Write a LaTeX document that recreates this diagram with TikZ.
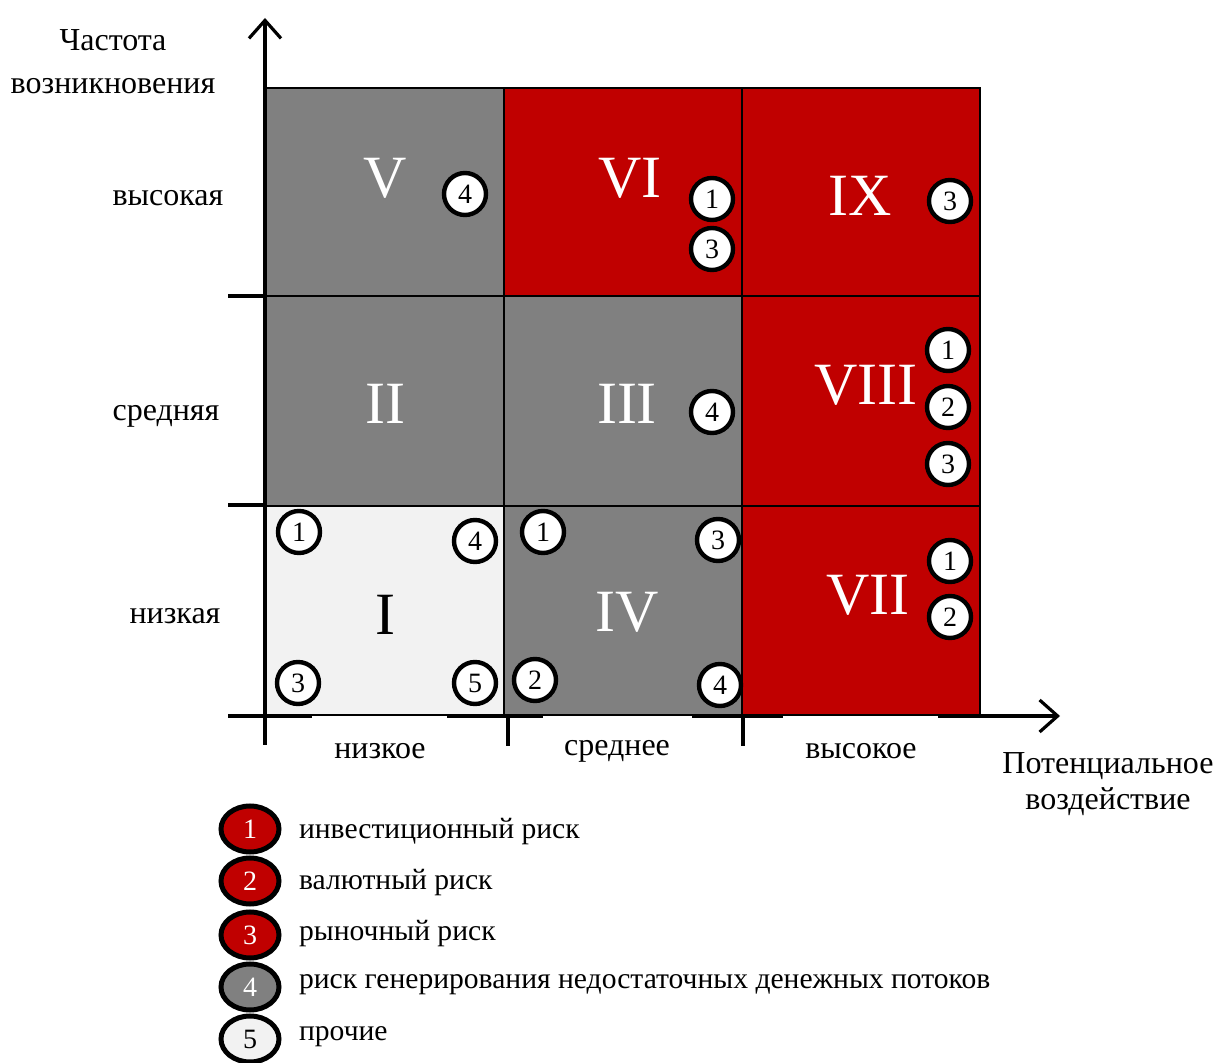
\documentclass[tikz,border=0pt]{standalone}
\usepackage{fontspec}
\setmainfont{Liberation Serif}
\usetikzlibrary{arrows.meta,shapes.geometric}
\definecolor{riskred}{HTML}{C00000}
\definecolor{riskgray}{HTML}{808080}
\definecolor{risklight}{HTML}{F2F2F2}
\begin{document}
\begin{tikzpicture}[x=0.5pt,y=-0.5pt,
  axis/.style={line width=1.6pt},
  cellbox/.style={draw,line width=0.9pt},
  numeral/.style={font=\fontsize{30}{30}\selectfont,text=white},
  riskdot/.style={draw,circle,line width=2.2pt,fill=white,minimum size=21pt,inner sep=0pt,font=\fontsize{14}{14}\selectfont},
  legdot/.style={draw,ellipse,line width=2.5pt,minimum width=29pt,minimum height=23pt,inner sep=0pt,font=\fontsize{14}{14}\selectfont},
  legtext/.style={anchor=west,font=\fontsize{14.8}{14.8}\selectfont},
  ticklab/.style={font=\fontsize{16}{21.5}\selectfont}]
\useasboundingbox (0,0) rectangle (1217,1063);

% matrix cells
\path[cellbox,fill=riskgray] (265,88) rectangle (504,296);
\path[cellbox,fill=riskred] (504,88) rectangle (742,296);
\path[cellbox,fill=riskred] (742,88) rectangle (980,296);
\path[cellbox,fill=riskgray] (265,296) rectangle (504,506);
\path[cellbox,fill=riskgray] (504,296) rectangle (742,506);
\path[cellbox,fill=riskred] (742,296) rectangle (980,506);
\path[cellbox,fill=risklight] (265,506) rectangle (504,715);
\path[cellbox,fill=riskgray] (504,506) rectangle (742,715);
\path[cellbox,fill=riskred] (742,506) rectangle (980,715);

% axes and ticks
\draw[axis,-{Straight Barb[length=9pt,width=16pt]}] (265,745) -- (265,18);
\draw[axis] (228,716) -- (312,716);
\draw[axis] (447,716) -- (543,716);
\draw[axis] (692,716) -- (783,716);
\draw[axis,-{Straight Barb[length=9pt,width=16pt]}] (938,716) -- (1060,716);
\draw[axis] (228,296) -- (265,296);
\draw[axis] (228,505) -- (265,505);
\draw[axis] (508,716) -- (508,746);
\draw[axis] (743,716) -- (743,746);

\node[ticklab,align=center] (ytitle) at (113,62) {Частота\\возникновения};
\node[ticklab,align=center,font=\fontsize{16}{18}\selectfont] (xtitle) at (1108,784) {Потенциальное\\воздействие};
\node[ticklab] (yhigh) at (168,198) {высокая};
\node[ticklab] (ymid) at (166,416) {средняя};
\node[ticklab] (ylow) at (175,616) {низкая};
\node[ticklab] (xlow) at (380,751) {низкое};
\node[ticklab] (xmid) at (617,751) {среднее};
\node[ticklab] (xhigh) at (861,751) {высокое};

% zone numbers
\node[numeral] (z5) at (385,178) {V};
\node[numeral] (z6) at (630,178) {VI};
\node[numeral] (z9) at (860,196) {IX};
\node[numeral] (z2) at (385,404) {II};
\node[numeral] (z3) at (627,404) {III};
\node[numeral] (z8) at (866,385) {VIII};
\node[numeral,text=black] (z1) at (385,615) {I};
\node[numeral] (z4) at (627,612) {IV};
\node[numeral] (z7) at (868,595) {VII};

% risks in each zone
\node[riskdot] (v4) at (465,194) {4};
\node[riskdot] (vi1) at (712,199) {1};
\node[riskdot] (vi3) at (712,249) {3};
\node[riskdot] (ix3) at (950,201) {3};
\node[riskdot] (iii4) at (712,412) {4};
\node[riskdot] (viii1) at (948,350) {1};
\node[riskdot] (viii2) at (948,407) {2};
\node[riskdot] (viii3) at (948,464) {3};
\node[riskdot] (i1) at (299,532) {1};
\node[riskdot] (i4) at (475,541) {4};
\node[riskdot] (i3) at (298,683) {3};
\node[riskdot] (i5) at (475,683) {5};
\node[riskdot] (iv1) at (543,532) {1};
\node[riskdot] (iv3) at (718,540) {3};
\node[riskdot] (iv2) at (535,680) {2};
\node[riskdot] (iv4) at (720,685) {4};
\node[riskdot] (vii1) at (950,561) {1};
\node[riskdot] (vii2) at (950,617) {2};

% legend
\node[legdot,fill=riskred,text=white] (l1) at (250,829) {1};
\node[legdot,fill=riskred,text=white] (l2) at (250,881) {2};
\node[legdot,fill=riskred,text=white] (l3) at (250,935) {3};
\node[legdot,fill=riskgray,text=white] (l4) at (250,987) {4};
\node[legdot,fill=risklight] (l5) at (250,1039) {5};
\node[legtext] (t1) at (292,832) {инвестиционный риск};
\node[legtext] (t2) at (292,883) {валютный риск};
\node[legtext] (t3) at (292,934) {рыночный риск};
\node[legtext] (t4) at (292,985) {риск генерирования недостаточных денежных потоков};
\node[legtext] (t5) at (292,1037) {прочие};
\end{tikzpicture}
\end{document}
